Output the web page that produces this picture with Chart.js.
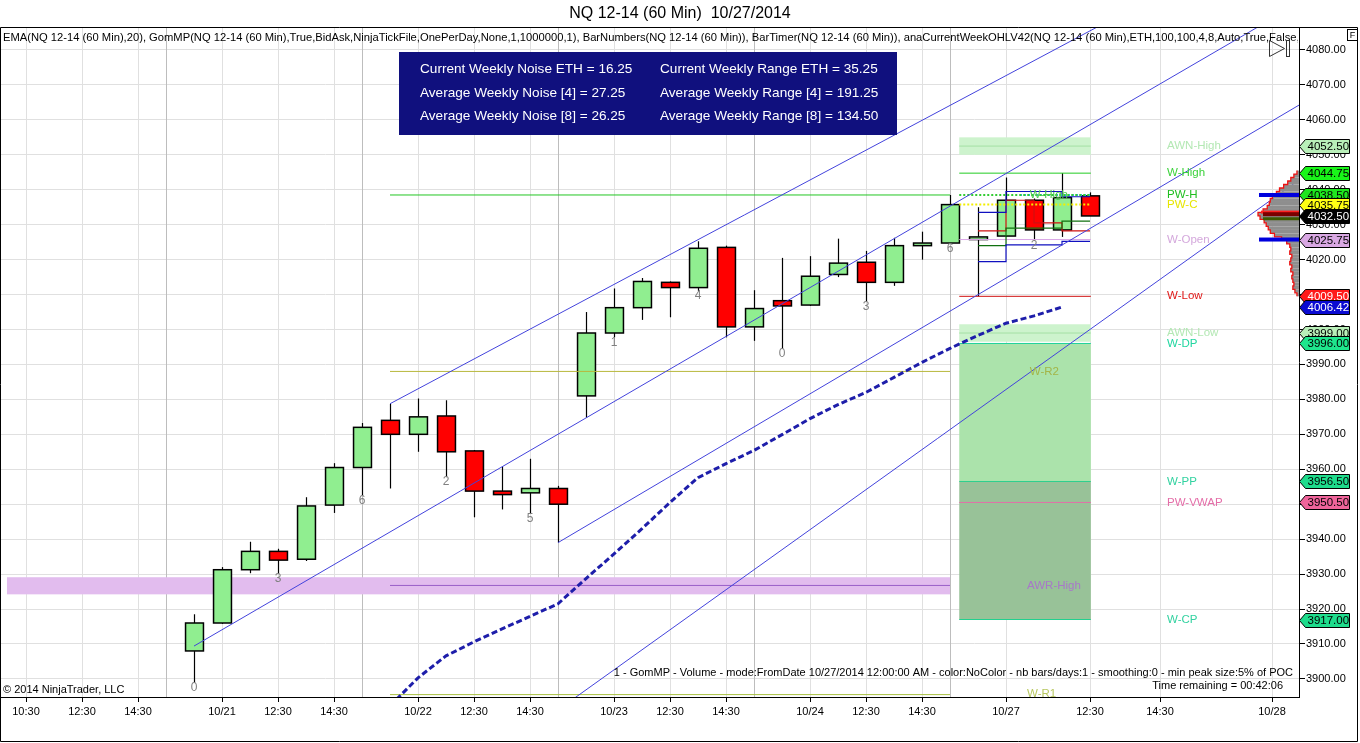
<!DOCTYPE html>
<html><head><meta charset="utf-8">
<script src="https://cdn.jsdelivr.net/npm/chart.js@4.4.0/dist/chart.umd.min.js"></script>
<style>html,body{margin:0;padding:0;background:#fff;overflow:hidden}canvas{display:block}</style>
</head><body>
<canvas id="c" width="1360" height="743"></canvas>
<script>
const FONT = '"Liberation Sans", Arial, sans-serif';

// ---- candles (bar index 0..32, hourly bars) ----
const opens  = [3908,3916,3931.25,3936.5,3934.25,3949.75,3960.5,3974,3970,3975.25,3965.25,3953.75,3953.25,3954.5,3981,3999,4006.25,4013.5,4012,4023.5,4000.75,4008.25,4007,4015.75,4019.25,4013.5,4024,4024.75,4025.75,4026.75,4037,4028.5,4038.25];
const highs  = [3918.5,3932,3939.25,3937.25,3952,3961.75,3973.25,3978.75,3980.25,3979.75,3965.5,3960.75,3963,3955.25,4005,4011.75,4014.75,4013.75,4025.25,4024,4011.25,4020.5,4021,4026,4022.5,4026.25,4028,4038.5,4035,4043.5,4037.5,4044.75,4039.25];
const lows   = [3899,3915.75,3930.25,3930,3933.75,3947.5,3952.5,3954.5,3965,3957.75,3946.25,3948.5,3947.25,3939,3974.75,3997.75,4002.75,4003.5,4011,3997.75,3996.75,3994.5,4006.75,4015,4008,4012.5,4020,4024.5,4009.5,4026.5,4025.5,4026.5,4032.5];
const closes = [3916,3931.25,3936.5,3934,3949.5,3960.5,3972,3970,3975,3965,3953.75,3952.75,3954.5,3950,3999,4006.25,4013.75,4012,4023.25,4000.75,4006,4006.75,4015.25,4019,4013.5,4024,4024.75,4035.75,4026.5,4037,4028.5,4037.75,4032.5];

// bar numbers indicator
const barNumIdx  = [0,3,6,9,12,15,18,21,24,27,30];
const barNumText = ['0','3','6','2','5','1','4','0','3','6','2'];

// EMA(20)
const emaIdx  = [7,8,9,10,11,12,13,14,15,16,17,18,19,20,21,22,23,24,25,26,27,28,29,30,31];
const emaVals = [3892.3,3900.3,3906.6,3910.6,3914.3,3917.9,3921.5,3928.7,3935.8,3943.0,3950.5,3957.6,3961.6,3965.4,3969.9,3974.5,3978.5,3982.0,3986.3,3990.6,3994.6,3998.3,4001.8,4003.9,4006.42];

// axes
const xTickPos    = [-6,-4,-2,1,3,5,8,10,12,15,17,19,22,24,26,29,32,34.5,38.5];
const xTickLabels = ['10:30','12:30','14:30','10/21','12:30','14:30','10/22','12:30','14:30','10/23','12:30','14:30','10/24','12:30','14:30','10/27','12:30','14:30','10/28'];
const sessionBreaks = [-1,6,13,20,27];
const yTicks = [3900,3910,3920,3930,3940,3950,3960,3970,3980,3990,4000,4010,4020,4030,4040,4050,4060,4070,4080];
const xMin = -6.893, xMax = 39.464, yMin = 3894.82, yMax = 4086.58;

// trend channel lines [x1, y1, x2, y2]
const chanX1 = [7, 0, 13, 12];
const chanY1 = [3978.75, 3909.4, 3939, 3885.4];
const chanX2 = [39.5, 39.5, 39.5, 39.5];
const chanY2 = [4117.5, 4093.6, 4064.4, 4043];

// horizontal levels
const lvlVals   = [4038.5, 3988, 3926.75, 3895.5, 4052.5, 4044.75, 4025.75, 4009.5, 3999, 3996, 3956.5, 3950.5, 3917];
const lvlFrom   = [7, 7, 7, 7, 27.33, 27.33, 27.33, 27.33, 27.33, 27.33, 27.33, 27.33, 27.33];
const lvlTo     = [27, 27, 27, 27, 32.03, 32.03, 32.03, 32.03, 32.03, 32.03, 32.03, 32.03, 32.03];
const lvlColors = ['#22c622','#b8b83c','#9a5fc8','#a8c040','#a4e0a4','#22cc22','#d9a6e6','#d01010','#a4e0a4','#1fd39b','#2fd08f','#e070a8','#22d08f'];

// dotted levels
const dotVals   = [4038.5, 4035.75, 4038.5];
const dotFrom   = [27.33, 27.33, 29.5];
const dotTo     = [32.03, 32.03, 32.03];
const dotColors = ['#33cc33', '#f2ee00', '#33b5e5'];

// step lines on current session
const stepBlueHiX = [28, 29, 31, 32],        stepBlueHiY = [4033.5, 4039.5, 4038, 4038];
const stepBlueLoX = [28, 29, 31, 32],        stepBlueLoY = [4019.4, 4024.25, 4025.25, 4025.25];
const stepGreenX  = [28, 29, 31, 32],        stepGreenY  = [4024, 4029, 4031, 4031];
const stepRedX    = [28, 29, 30, 31, 32],    stepRedY    = [4028.25, 4037, 4030.5, 4028.25, 4028.25];

// zones
const boxFrom   = [-6.68, 27.33, 27.33, 27.33, 27.33];
const boxTo     = [27, 32.03, 32.03, 32.03, 32.03];
const boxHi     = [3929.1, 4055, 4001.5, 3996, 3956.5];
const boxLo     = [3924.2, 4050, 3996.5, 3956.5, 3917];
const boxColors = ['#e2bcee', '#cdf3cd', '#cdf3cd', '#abe3ab', '#98c298'];

// level names
const nameText   = ['AWN-High','W-High','PW-H','PW-C','W-Open','W-Low','AWN-Low','W-DP','W-PP','PW-VWAP','W-CP'];
const nameVals   = [4052.5, 4044.75, 4038.5, 4035.75, 4025.75, 4009.5, 3999, 3996, 3956.5, 3950.5, 3917];
const nameColors = ['#b4e8b4','#3cd23c','#1ebe1e','#e6e600','#d4a8dc','#e01818','#b4e8b4','#22d6a0','#32d2a0','#e46ea8','#32d2a0'];
const nameX = 34.75;
const innerText   = ['W-High','W-R2','AWR-High','W-R1'];
const innerVals   = [4038.5, 3988, 3926.75, 3895.75];
const innerX      = [29.85, 29.85, 29.75, 29.75];
const innerColors = ['#4ccc4c','#a3b548','#a878c8','#b8c860'];

// price tags on the right axis
const tagVals = [4052.5, 4044.75, 4038.5, 4035.75, 4032.5, 4025.75, 4009.5, 4006.42, 3999, 3996, 3956.5, 3950.5, 3917];
const tagBg   = ['#b9efb9','#19f519','#1ee61e','#ffff14','#000000','#d9a8e3','#ff1a1a','#0a0ad2','#b9efb9','#1ee68c','#1edc8c','#f0649b','#1edc8c'];
const tagFg   = ['#000','#000','#000','#000','#fff','#000','#fff','#fff','#000','#000','#000','#000','#000'];

// volume profile (current session)
const vpLevels = [4045,4044,4043,4042,4041,4040,4039,4038,4037,4036,4035,4034,4033,4032,4031,4030,4029,4028,4027,4026,4025,4024,4023,4022,4021,4020,4019,4018,4017,4016,4015,4014,4013,4012,4011,4010];
const vpVolume = [2,5,8,11,15,19,22,26,28,29,31,35,40,38,34,32,30,28,24,17,12,9,8,9,7,8,9,7,8,6,7,6,5,6,4,2];
const vaHigh = 4038.5, vaLow = 4025.75, poc = 4033;

// info box
const infoLeft  = ['Current Weekly Noise ETH = 16.25','Average Weekly Noise [4] = 27.25','Average Weekly Noise [8] = 26.25'];
const infoRight = ['Current Weekly Range ETH = 35.25','Average Weekly Range [4] = 191.25','Average Weekly Range [8] = 134.50'];

const titleText = 'NQ 12-14 (60 Min)  10/27/2014';
const indicatorText = 'EMA(NQ 12-14 (60 Min),20), GomMP(NQ 12-14 (60 Min),True,BidAsk,NinjaTickFile,OnePerDay,None,1,1000000,1), BarNumbers(NQ 12-14 (60 Min)), BarTimer(NQ 12-14 (60 Min)), anaCurrentWeekOHLV42(NQ 12-14 (60 Min),ETH,100,100,4,8,Auto,True,False,True)';
const gomText = '1 - GomMP - Volume - mode:FromDate 10/27/2014 12:00:00 AM - color:NoColor - nb bars/days:1 - smoothing:0 - min peak size:5% of POC';
const timerText = 'Time remaining = 00:42:06';
const copyText = '\u00a9 2014 NinjaTrader, LLC';

// ---- datasets ----
const datasets = [];
function lineDs(xs, ys, color, width, dash, stepped) {
  datasets.push({
    data: xs.map((x, i) => ({x, y: ys[i]})),
    borderColor: color, borderWidth: width, borderDash: dash || [],
    pointRadius: 0, fill: false, tension: 0, stepped: stepped || false
  });
}
lineDs(emaIdx, emaVals, '#1e1eaa', 3, [6, 3]);
for (let i = 0; i < chanX1.length; i++) lineDs([chanX1[i], chanX2[i]], [chanY1[i], chanY2[i]], '#4343dc', 1);
for (let i = 0; i < dotVals.length; i++) lineDs([dotFrom[i], dotTo[i]], [dotVals[i], dotVals[i]], dotColors[i], 2, [2, 2]);
lineDs(stepBlueHiX, stepBlueHiY, '#1010c0', 1.2, [], true);
lineDs(stepBlueLoX, stepBlueLoY, '#1010c0', 1.2, [], true);
lineDs(stepGreenX, stepGreenY, '#107010', 1.2, [], true);
lineDs(stepRedX, stepRedY, '#d01010', 1.2, [], true);
for (let i = 0; i < lvlVals.length; i++) lineDs([lvlFrom[i], lvlTo[i]], [lvlVals[i], lvlVals[i]], lvlColors[i], 1);

// ---- plugin drawing ----
const drawPlugin = {
  id: 'nt',
  beforeDatasetsDraw(chart) {
    const {ctx, chartArea: a, scales: {x, y}} = chart;
    ctx.save();
    ctx.beginPath(); ctx.rect(a.left, a.top, a.right - a.left, a.bottom - a.top); ctx.clip();
    ctx.strokeStyle = '#bdbdbd'; ctx.lineWidth = 1;
    sessionBreaks.forEach(k => {
      const px = Math.round(x.getPixelForValue(k)) + 0.5;
      ctx.beginPath(); ctx.moveTo(px, a.top); ctx.lineTo(px, a.bottom); ctx.stroke();
    });
    for (let i = 0; i < boxFrom.length; i++) {
      const x1 = x.getPixelForValue(boxFrom[i]), x2 = x.getPixelForValue(boxTo[i]);
      const y1 = y.getPixelForValue(boxHi[i]), y2 = y.getPixelForValue(boxLo[i]);
      ctx.fillStyle = boxColors[i];
      ctx.fillRect(x1, y1, x2 - x1, y2 - y1);
    }
    const bw = (x.getPixelForValue(1) - x.getPixelForValue(0)) * 0.64;
    for (let i = 0; i < opens.length; i++) {
      const xc = Math.round(x.getPixelForValue(i)) + 0.5;
      const yh = y.getPixelForValue(highs[i]), yl = y.getPixelForValue(lows[i]);
      const yo = y.getPixelForValue(opens[i]), yc = y.getPixelForValue(closes[i]);
      ctx.strokeStyle = '#000'; ctx.lineWidth = 1.2;
      ctx.beginPath(); ctx.moveTo(xc, yh); ctx.lineTo(xc, yl); ctx.stroke();
      const top = Math.min(yo, yc), h = Math.max(Math.abs(yo - yc), 1.5);
      ctx.fillStyle = closes[i] >= opens[i] ? '#90ee90' : '#ff0000';
      ctx.fillRect(xc - bw / 2, top, bw, h);
      ctx.lineWidth = 1.5;
      ctx.strokeRect(xc - bw / 2, top, bw, h);
    }
    ctx.restore();
  },
  afterDatasetsDraw(chart) {
    const {ctx, chartArea: a, scales: {x, y}} = chart;
    ctx.save();
    ctx.beginPath(); ctx.rect(a.left, a.top, a.right - a.left, a.bottom - a.top); ctx.clip();
    ctx.font = '12px ' + FONT; ctx.fillStyle = '#808080'; ctx.textAlign = 'center'; ctx.textBaseline = 'middle';
    barNumIdx.forEach((k, i) => {
      ctx.fillText(barNumText[i], x.getPixelForValue(k), y.getPixelForValue(lows[k]) + 5);
    });
    ctx.font = '11.5px ' + FONT; ctx.textAlign = 'left';
    nameText.forEach((t, i) => {
      ctx.fillStyle = nameColors[i];
      ctx.fillText(t, x.getPixelForValue(nameX), y.getPixelForValue(nameVals[i]));
    });
    innerText.forEach((t, i) => {
      ctx.fillStyle = innerColors[i];
      ctx.fillText(t, x.getPixelForValue(innerX[i]), y.getPixelForValue(innerVals[i]));
    });
    // volume profile
    const right = a.right;
    const maxV = Math.max(...vpVolume), maxW = 41;
    ctx.fillStyle = '#8e8e8e';
    const pts = [];
    vpLevels.forEach((lv, i) => {
      const y1 = y.getPixelForValue(lv + 0.5), y2 = y.getPixelForValue(lv - 0.5);
      const w = vpVolume[i] / maxV * maxW;
      ctx.fillRect(right - w, y1, w, y2 - y1);
      pts.push([right - w, y1], [right - w, y2]);
    });
    ctx.strokeStyle = '#ee1111'; ctx.lineWidth = 1.3;
    ctx.beginPath();
    pts.forEach((p, i) => i ? ctx.lineTo(p[0], p[1]) : ctx.moveTo(p[0], p[1]));
    ctx.stroke();
    ctx.fillStyle = '#0000dd';
    [vaHigh, vaLow].forEach(v => ctx.fillRect(right - 40, y.getPixelForValue(v) - 2, 40, 4));
    ctx.fillStyle = '#ff2020'; ctx.fillRect(right - 38, y.getPixelForValue(poc + 0.6) - 1.5, 38, 3);
    ctx.fillStyle = '#7a0000'; ctx.fillRect(right - 36, y.getPixelForValue(poc) - 2, 36, 4);
    ctx.fillStyle = '#3c5a00'; ctx.fillRect(right - 36, y.getPixelForValue(poc - 1.3) - 1.5, 36, 3);
    ctx.restore();

    // info box
    ctx.save();
    ctx.fillStyle = '#10107e';
    ctx.fillRect(399, 52, 498, 83);
    ctx.fillStyle = '#fff'; ctx.font = '13.6px ' + FONT; ctx.textBaseline = 'middle'; ctx.textAlign = 'left';
    [69, 93, 116].forEach((yy, i) => {
      ctx.fillText(infoLeft[i], 420, yy);
      ctx.fillText(infoRight[i], 660, yy);
    });
    ctx.beginPath(); ctx.rect(a.left, a.top, a.right - a.left - 1, 30); ctx.clip();
    ctx.fillStyle = '#000'; ctx.font = '11.2px ' + FONT;
    ctx.fillText(indicatorText, 3, 38);
    ctx.restore();

    ctx.save();
    ctx.fillStyle = '#000'; ctx.font = '11px ' + FONT; ctx.textBaseline = 'middle';
    ctx.textAlign = 'right';
    ctx.fillText(gomText, 1293, 673);
    ctx.fillText(timerText, 1283, 686);
    ctx.textAlign = 'left';
    ctx.fillText(copyText, 3, 690);
    ctx.restore();
  },
  afterDraw(chart) {
    const {ctx, chartArea: a, scales: {y}} = chart;
    ctx.save();
    ctx.font = '11.5px ' + FONT; ctx.textBaseline = 'middle'; ctx.textAlign = 'left';
    tagVals.forEach((v, i) => {
      const yc = Math.round(y.getPixelForValue(v)) + 0.5;
      const x0 = a.right + 0.5;
      ctx.beginPath();
      ctx.moveTo(x0, yc); ctx.lineTo(x0 + 6, yc - 7); ctx.lineTo(x0 + 50, yc - 7);
      ctx.lineTo(x0 + 50, yc + 7); ctx.lineTo(x0 + 6, yc + 7); ctx.closePath();
      ctx.fillStyle = tagBg[i]; ctx.fill();
      ctx.strokeStyle = '#000'; ctx.lineWidth = 1; ctx.stroke();
      ctx.fillStyle = tagFg[i];
      ctx.fillText(v.toFixed(2), x0 + 8, yc + 0.5);
    });
    ctx.fillStyle = '#000'; ctx.font = '16px ' + FONT; ctx.textAlign = 'center';
    ctx.fillText(titleText, 680, 14);
    ctx.strokeStyle = '#000'; ctx.lineWidth = 1;
    ctx.beginPath();
    ctx.moveTo(0.5, 27.5); ctx.lineTo(1357.5, 27.5); ctx.lineTo(1357.5, 741.5); ctx.lineTo(0.5, 741.5); ctx.closePath();
    ctx.stroke();
    ctx.beginPath(); ctx.moveTo(0.5, a.bottom + 0.5); ctx.lineTo(a.right, a.bottom + 0.5); ctx.stroke();
    ctx.strokeStyle = '#333';
    ctx.beginPath(); ctx.moveTo(1269.5, 40.5); ctx.lineTo(1284.5, 48.5); ctx.lineTo(1269.5, 56.5); ctx.closePath(); ctx.stroke();
    ctx.strokeRect(1286.5, 40.5, 3, 16);
    ctx.fillStyle = '#fff'; ctx.fillRect(1347, 29, 11, 11);
    ctx.strokeStyle = '#000'; ctx.strokeRect(1347.5, 29.5, 10, 11);
    ctx.fillStyle = '#000'; ctx.font = '9px ' + FONT; ctx.textAlign = 'center';
    ctx.fillText('F', 1352.5, 35.5);
    ctx.restore();
  }
};

Chart.defaults.font.family = FONT;
new Chart(document.getElementById('c'), {
  type: 'line',
  data: { datasets },
  plugins: [drawPlugin],
  options: {
    responsive: false, animation: false, events: [],
    layout: { padding: { left: 1, top: 27, right: 0, bottom: 0 } },
    plugins: { legend: { display: false }, tooltip: { enabled: false } },
    scales: {
      x: {
        type: 'linear', position: 'bottom', min: xMin, max: xMax,
        afterBuildTicks: s => { s.ticks = xTickPos.map(v => ({ value: v })); },
        afterFit: s => { s.height = 46; },
        ticks: { callback: v => xTickLabels[xTickPos.indexOf(v)], autoSkip: false, maxRotation: 0, color: '#000', font: { size: 11 }, padding: 3 },
        grid: { color: '#e0e0e0', tickColor: '#000', tickLength: 5 },
        border: { color: '#000' }
      },
      y: {
        type: 'linear', position: 'right', min: yMin, max: yMax,
        afterBuildTicks: s => { s.ticks = yTicks.map(v => ({ value: v })); },
        afterFit: s => { s.width = 61; },
        ticks: { callback: v => Number(v).toFixed(2), color: '#000', font: { size: 11 }, padding: 1 },
        grid: { color: '#e0e0e0', tickColor: '#000', tickLength: 6 },
        border: { color: '#000' }
      }
    }
  }
});
</script>
</body></html>
